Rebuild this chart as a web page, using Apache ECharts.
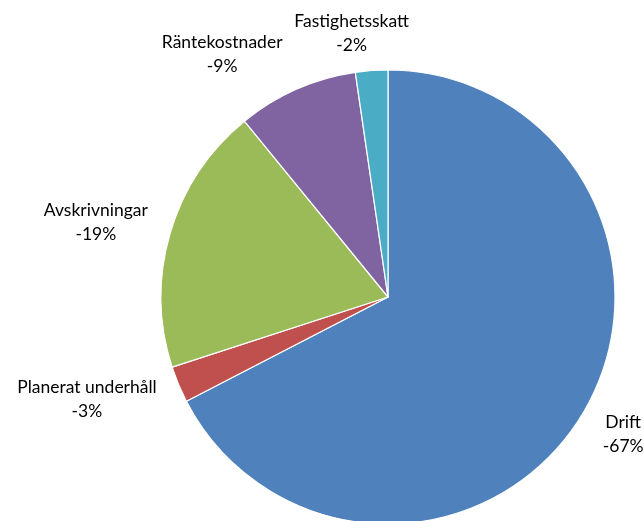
<!DOCTYPE html>
<html>
<head>
<meta charset="utf-8">
<script src="https://cdn.jsdelivr.net/npm/echarts@6/dist/echarts.min.js"></script>
<style>
html,body{margin:0;padding:0;background:#fff;}
#chart{width:644px;height:521px;}
</style>
</head>
<body>
<div id="chart"></div>
<script>
const categories = ['Drift', 'Planerat underhåll', 'Avskrivningar', 'Räntekostnader', 'Fastighetsskatt'];
const values = [67.4, 2.6, 19.1, 8.6, 2.3];
const colors = ['#4f81bd', '#c0504d', '#9bbb59', '#8064a2', '#4bacc6'];

const CX = 388, CY = 297, R = 227, GAP = 15;
const total = values.reduce((a, b) => a + b, 0);
// mid angle of each slice, clockwise from 12 o'clock (radians)
const midAngles = [];
let acc = 0;
values.forEach(v => { midAngles.push((acc + v / 2) / total * 2 * Math.PI); acc += v; });

const chart = echarts.init(document.getElementById('chart'), null, {renderer: 'canvas'});
chart.setOption({
  animation: false,
  backgroundColor: '#ffffff',
  series: [{
    type: 'pie',
    center: [CX, CY],
    radius: R,
    startAngle: 90,
    clockwise: true,
    avoidLabelOverlap: false,
    itemStyle: {borderColor: '#ffffff', borderWidth: 1.2},
    label: {
      show: true,
      position: 'outside',
      fontFamily: 'Lato',
      fontSize: 17.5,
      color: '#000000',
      lineHeight: 24,
      align: 'center',
      formatter: p => p.name + '\n-' + Math.round(values[p.dataIndex] / total * 100) + '%'
    },
    labelLine: {show: false, length: 12, length2: 0},
    labelLayout: function (params) {
      const a = midAngles[params.dataIndex];
      const dx = Math.sin(a), dy = -Math.cos(a);
      const w = params.labelRect.width, h = params.labelRect.height;
      const px = CX + dx * (R + GAP), py = CY + dy * (R + GAP);
      const ox = Math.sign(dx) * (w / 2 + 8) * Math.min(1, Math.abs(dx) * 4);
      const oy = dy * h / 2 * 0.95;
      return {
        x: px + ox,
        y: py + oy,
        align: 'center',
        verticalAlign: 'middle',
        hideOverlap: false
      };
    },
    data: categories.map((c, i) => ({name: c, value: values[i], itemStyle: {color: colors[i]}}))
  }]
});
</script>
</body>
</html>
